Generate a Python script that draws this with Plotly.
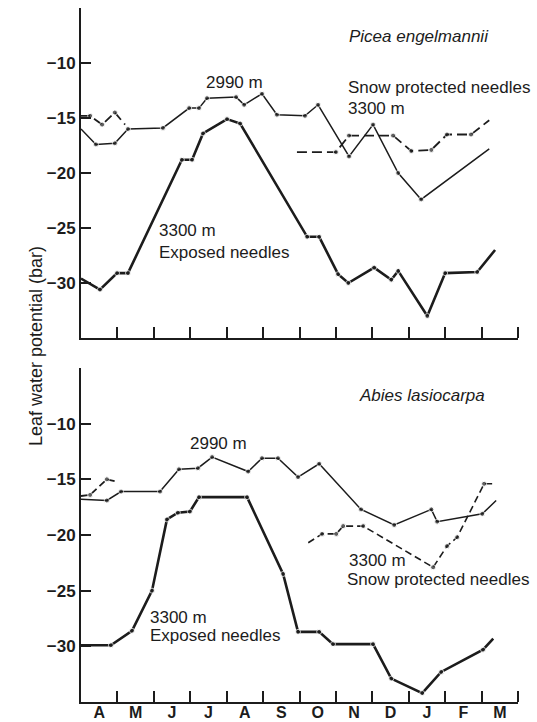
import plotly.graph_objects as go

# ---------------- data (months from April = 0 .. March end = 12) ----------------
months = ["A", "M", "J", "J", "A", "S", "O", "N", "D", "J", "F", "M"]
yticks = [-30, -25, -20, -15, -10]
yticktext = ["\u221230", "\u221225", "\u221220", "\u221215", "\u221210"]

# Picea engelmannii
pic_2990_t = [0, 0.41, 0.93, 1.29, 2.25, 2.97, 3.24, 3.46, 4.26, 4.48, 4.97, 5.38, 6.15, 6.51, 7.36, 8.02, 8.71, 9.34, 11.21]
pic_2990_v = [-16.0, -17.4, -17.3, -16.0, -15.9, -14.1, -14.1, -13.2, -13.1, -13.8, -12.8, -14.7, -14.8, -13.8, -18.5, -15.6, -20.0, -22.4, -17.8]

pic_spring_dash_t = [0, 0.25, 0.58, 0.93, 1.21]
pic_spring_dash_v = [-14.8, -14.8, -15.6, -14.5, -15.6]

pic_exp_t = [0, 0.52, 0.99, 1.29, 2.77, 3.05, 3.35, 4.01, 4.37, 6.21, 6.54, 7.06, 7.34, 8.05, 8.52, 8.71, 9.51, 10.0, 10.88, 11.37]
pic_exp_v = [-29.6, -30.6, -29.1, -29.1, -18.8, -18.8, -16.4, -15.1, -15.5, -25.8, -25.8, -29.2, -30.0, -28.6, -29.7, -28.9, -33.0, -29.1, -29.0, -27.0]

pic_snow_t = [5.93, 7.0, 7.36, 8.57, 9.07, 9.62, 10.05, 10.71, 11.21]
pic_snow_v = [-18.1, -18.1, -16.6, -16.6, -18.0, -17.9, -16.5, -16.5, -15.2]

# Abies lasiocarpa
abi_2990_t = [0, 0.71, 1.10, 2.17, 2.69, 3.21, 3.60, 4.59, 4.97, 5.41, 5.96, 6.54, 7.69, 8.60, 9.62, 9.78, 11.02, 11.40]
abi_2990_v = [-16.8, -16.9, -16.1, -16.1, -14.1, -14.0, -13.0, -14.3, -13.1, -13.1, -14.8, -13.6, -17.7, -19.1, -17.7, -18.8, -18.1, -16.9]

abi_spring_dash_t = [0, 0.25, 0.71, 0.99]
abi_spring_dash_v = [-16.5, -16.4, -15.0, -15.2]

abi_exp_t = [0, 0.82, 1.40, 1.95, 2.36, 2.66, 2.99, 3.24, 4.56, 5.55, 5.96, 6.54, 6.92, 8.02, 8.52, 9.37, 9.89, 11.04, 11.32]
abi_exp_v = [-29.9, -29.9, -28.6, -25.0, -18.6, -18.0, -17.9, -16.6, -16.6, -23.5, -28.7, -28.7, -29.8, -29.8, -32.9, -34.2, -32.3, -30.3, -29.3]

abi_snow_t = [6.24, 6.62, 7.01, 7.20, 7.75, 9.67, 10.05, 10.33, 11.07, 11.29]
abi_snow_v = [-20.7, -19.9, -19.9, -19.2, -19.2, -22.9, -21.0, -20.2, -15.4, -15.4]

# ---------------- figure ----------------
INK = "#1c1c1c"
FONT = "Liberation Sans, Arial, Helvetica, sans-serif"
W, H = 537, 722
L, R = 81, 19


def px(x):
    return (x - L) / (W - L - R)


def py(y):
    return 1 - y / H


def inner_sizes(n, s):
    return [0] + [s] * (n - 2) + [0]


fig = go.Figure()


def add_line(t, v, xa, ya, width, dash="solid", msize=5):
    fig.add_trace(go.Scatter(
        x=t, y=v, xaxis=xa, yaxis=ya, mode="lines+markers",
        line=dict(color=INK, width=width, dash=dash),
        marker=dict(color=INK, size=inner_sizes(len(t), msize)),
        showlegend=False, hoverinfo="skip"))


add_line(pic_2990_t, pic_2990_v, "x", "y", 1.5)
add_line(pic_spring_dash_t, pic_spring_dash_v, "x", "y", 1.8, "9px,5px")
add_line(pic_exp_t, pic_exp_v, "x", "y", 2.6)
add_line(pic_snow_t, pic_snow_v, "x", "y", 1.8, "10px,5px")

add_line(abi_2990_t, abi_2990_v, "x2", "y2", 1.5)
add_line(abi_spring_dash_t, abi_spring_dash_v, "x2", "y2", 1.8, "7px,4px")
add_line(abi_exp_t, abi_exp_v, "x2", "y2", 2.6)
add_line(abi_snow_t, abi_snow_v, "x2", "y2", 1.6, "7px,4px")

tickfont = dict(family=FONT, size=17, color=INK, weight="bold")
monthfont = dict(family=FONT, size=16, color=INK, weight="bold")


def xax(anchor, labels):
    return dict(domain=[0, 1], anchor=anchor, range=[0, 12],
                showline=True, linecolor=INK, linewidth=2,
                showgrid=False, zeroline=False,
                tickmode="array", tickvals=[i + 0.5 for i in range(12)],
                ticktext=months, ticks="", showticklabels=labels,
                tickfont=monthfont, automargin=False, ticklabelstandoff=-5,
                minor=dict(tickmode="array", tickvals=list(range(1, 13)),
                           ticks="inside", ticklen=11, tickwidth=1.5,
                           tickcolor=INK, showgrid=False))


def yax(anchor, dom):
    return dict(domain=dom, anchor=anchor, range=[-35, -5],
                showline=True, linecolor=INK, linewidth=2,
                showgrid=False, zeroline=False,
                tickmode="array", tickvals=yticks, ticktext=yticktext,
                ticks="inside", ticklen=10, tickwidth=1.5, tickcolor=INK,
                tickfont=tickfont, automargin=False)


fig.update_layout(
    width=W, height=H,
    margin=dict(l=L, r=R, t=0, b=0),
    paper_bgcolor="white", plot_bgcolor="white",
    xaxis=xax("y", False),
    yaxis=yax("x", [py(338), py(8)]),
    xaxis2=xax("y2", True),
    yaxis2=yax("x2", [py(702), py(368)]),
)

notes = [
    ("<i>Picea engelmannii</i>", 347, 37),
    ("2990 m", 204, 82),
    ("Snow protected needles", 346, 88),
    ("3300 m", 346, 108),
    ("3300 m", 157, 230),
    ("Exposed needles", 157, 252),
    ("<i>Abies lasiocarpa</i>", 357, 395),
    ("2990 m", 188, 443),
    ("3300 m", 347, 560),
    ("Snow protected needles", 345, 579),
    ("3300 m", 148, 617),
    ("Exposed needles", 148, 635),
]
for text, x, y in notes:
    fig.add_annotation(text=text, xref="paper", yref="paper", x=px(x), y=py(y),
                       xanchor="left", yanchor="middle", showarrow=False,
                       font=dict(family=FONT, size=17, color=INK))

fig.add_annotation(text="Leaf water potential (bar)", xref="paper", yref="paper",
                   x=px(36), y=py(346), xanchor="center", yanchor="middle",
                   textangle=-90, showarrow=False,
                   font=dict(family=FONT, size=18, color=INK))

fig.write_html("out.html", config={"displayModeBar": False},
               post_script="document.body.style.margin='0';document.body.style.overflow='hidden';")
